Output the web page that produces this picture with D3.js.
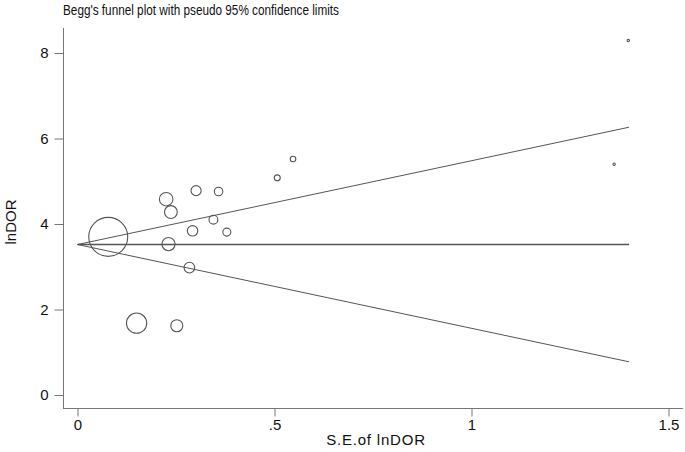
<!DOCTYPE html>
<html><head><meta charset="utf-8">
<script src="https://cdn.jsdelivr.net/npm/d3@7"></script>
<style>body{margin:0;background:#fff}svg{display:block}</style>
</head><body><svg id="c" width="685" height="452"></svg>
<script>
const seValues = [0.078,0.225,0.237,0.301,0.358,0.345,0.292,0.379,0.231,0.284,0.150,0.252,0.547,0.507,1.398,1.362];
const lnDORValues = [3.70,4.58,4.28,4.78,4.76,4.10,3.84,3.81,3.53,2.98,1.68,1.62,5.52,5.08,8.29,5.40];
const pooledLnDOR = 3.52;
const funnelMaxSE = 1.4;
const xTicks = [0, 0.5, 1, 1.5];
const xTickLabels = ["0", ".5", "1", "1.5"];
const yTicks = [0, 2, 4, 6, 8];
const titleText = "Begg's funnel plot with pseudo 95% confidence limits";
const xTitle = "S.E.of lnDOR";
const yTitle = "lnDOR";

const svg = d3.select("#c");
const font = "'Liberation Sans', Arial, Helvetica, sans-serif";
const x = d3.scaleLinear().domain([0, 1.5]).range([77.5, 668.5]);
const y = d3.scaleLinear().domain([0, 8]).range([395, 53]);
const axisColor = "#777";

// title
svg.append("text").attr("x", 63).attr("y", 15).attr("font-family", font)
  .attr("font-size", 14).attr("fill", "#111")
  .attr("textLength", 276).attr("lengthAdjust", "spacingAndGlyphs").text(titleText);

// axes
const xAxis = svg.append("g").attr("transform", "translate(0,408.5)")
  .call(d3.axisBottom(x).tickValues(xTicks).tickFormat((d,i)=>xTickLabels[i]).tickSize(8).tickPadding(3));
xAxis.select(".domain").attr("d", "M63,0H683").attr("stroke", axisColor);
const yAxis = svg.append("g").attr("transform", "translate(63.5,0)")
  .call(d3.axisLeft(y).tickValues(yTicks).tickSize(9).tickPadding(6));
yAxis.select(".domain").attr("d", "M0,28V408.5").attr("stroke", axisColor);
[xAxis, yAxis].forEach(g => {
  g.selectAll(".tick line").attr("stroke", axisColor);
  g.selectAll(".tick text").attr("font-family", font).attr("font-size", 15).attr("fill", "#111");
});

svg.append("text").attr("x", 376).attr("y", 445).attr("text-anchor", "middle")
  .attr("font-family", font).attr("font-size", 15).attr("letter-spacing", 0.8).attr("fill", "#111").text(xTitle);
svg.append("text").attr("transform", "translate(16,222) rotate(-90)").attr("text-anchor", "middle")
  .attr("font-family", font).attr("font-size", 15).attr("fill", "#111").text(yTitle);

// funnel lines
const g = svg.append("g");
g.append("line").attr("x1", x(0)).attr("y1", y(pooledLnDOR)).attr("x2", x(funnelMaxSE)).attr("y2", y(pooledLnDOR))
  .attr("stroke", "#555").attr("stroke-width", 1.6);
[1, -1].forEach(s => {
  g.append("line").attr("x1", x(0)).attr("y1", y(pooledLnDOR))
    .attr("x2", x(funnelMaxSE)).attr("y2", y(pooledLnDOR + s * 1.96 * funnelMaxSE))
    .attr("stroke", "#555").attr("stroke-width", 1);
});

// points sized by inverse variance
const pts = seValues.map((s, i) => ({se: s, v: lnDORValues[i], w: 1 / (s * s)}));
const r = d3.scaleSqrt().domain([0, d3.max(pts, d => d.w)]).range([0, 19.5]);
g.selectAll("circle").data(pts).join("circle")
  .attr("cx", d => x(d.se)).attr("cy", d => y(d.v))
  .attr("r", d => Math.max(1.2, r(d.w)))
  .attr("fill", "none").attr("stroke", "#555").attr("stroke-width", 1.1);
</script></body></html>
